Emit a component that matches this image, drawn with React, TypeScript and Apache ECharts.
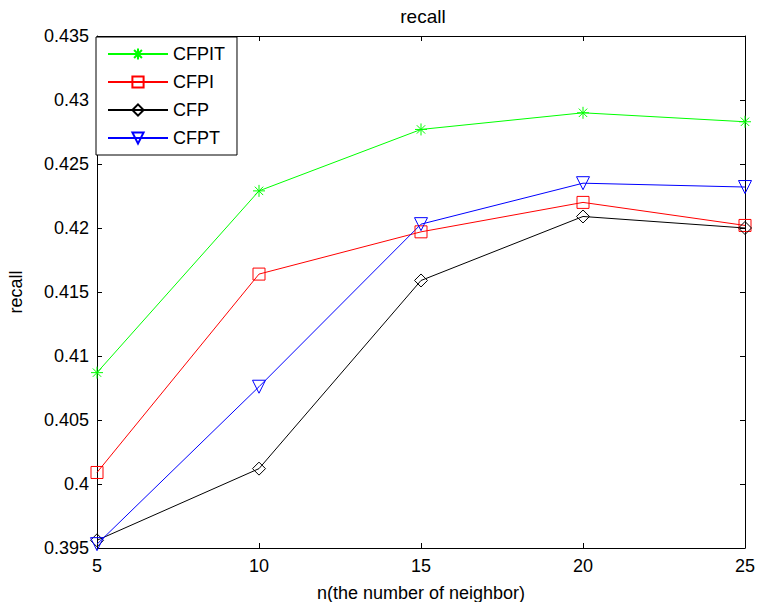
import React, { useEffect, useRef } from "react";
import * as echarts from "echarts";

const neighbors = [5, 10, 15, 20, 25];
const seriesNames = ["CFPIT", "CFPI", "CFP", "CFPT"];
const cfpit = [0.4087, 0.4229, 0.4277, 0.429, 0.4283];
const cfpi = [0.4009, 0.4164, 0.4197, 0.422, 0.4202];
const cfp = [0.3956, 0.4012, 0.4159, 0.4209, 0.42];
const cfpt = [0.3953, 0.4076, 0.4203, 0.4235, 0.4232];

const FONT = "'Liberation Sans', Arial, sans-serif";
const STAR = "path://M6,0L6,12M0,6L12,6M1.8,1.8L10.2,10.2M1.8,10.2L10.2,1.8";

export default function App() {
  const ref = useRef<HTMLDivElement>(null);
  useEffect(() => {
    if (!ref.current) return;
    const chart = echarts.init(ref.current, undefined, { renderer: "svg" });
    const mk = (name: string, vals: number[], color: string, symbol: string, size: number, rotate = 0) => ({
      name,
      type: "line",
      data: neighbors.map((x, i) => [x, vals[i]]),
      symbol,
      symbolSize: size,
      symbolRotate: rotate,
      symbolKeepAspect: true,
      showAllSymbol: true,
      clip: false,
      lineStyle: { color, width: 1 },
      itemStyle: { color: "rgba(0,0,0,0)", borderColor: color, borderWidth: 1 },
      emphasis: { disabled: true },
    });
    const axisCommon = {
      axisLine: { show: true, lineStyle: { color: "#000", width: 1 } },
      axisTick: { show: true, inside: true, length: 5, lineStyle: { color: "#000" } },
      splitLine: { show: false },
    };
    chart.setOption({
      animation: false,
      backgroundColor: "#fff",
      textStyle: { fontFamily: FONT },
      title: {
        text: "recall",
        left: 418,
        textAlign: "center",
        top: 2,
        textStyle: { fontFamily: FONT, fontSize: 19, fontWeight: "normal", color: "#000" },
      },
      grid: { left: 97, top: 36, right: 12, bottom: 54, containLabel: false, outerBoundsMode: "none" },
      legend: {
        left: 96,
        top: 37,
        orient: "vertical",
        data: seriesNames,
        itemWidth: 60,
        itemHeight: 14,
        itemGap: 10,
        padding: [8, 12, 8, 11],
        borderColor: "#000",
        borderWidth: 1,
        backgroundColor: "#fff",
        textStyle: { fontFamily: FONT, fontSize: 18, color: "#000" },
        selectedMode: false,
      },
      xAxis: [
        {
          type: "value",
          min: 5,
          max: 25,
          interval: 5,
          name: "n(the number of neighbor)",
          nameLocation: "middle",
          nameGap: 36,
          nameTextStyle: { fontFamily: FONT, fontSize: 18, color: "#000" },
          axisLabel: { color: "#000", fontSize: 18, fontFamily: FONT, margin: 9 },
          ...axisCommon,
        },
        {
          type: "value",
          position: "top",
          min: 5,
          max: 25,
          interval: 5,
          axisLabel: { show: false },
          ...axisCommon,
        },
      ],
      yAxis: [
        {
          type: "value",
          min: 0.395,
          max: 0.435,
          interval: 0.005,
          name: "recall",
          nameLocation: "middle",
          nameGap: 72,
          nameTextStyle: { fontFamily: FONT, fontSize: 18, color: "#000" },
          axisLabel: {
            color: "#000",
            fontSize: 18,
            fontFamily: FONT,
            margin: 8,
            formatter: (v: number) => String(+v.toFixed(3)),
          },
          ...axisCommon,
        },
        {
          type: "value",
          position: "right",
          min: 0.395,
          max: 0.435,
          interval: 0.005,
          axisLabel: { show: false },
          ...axisCommon,
        },
      ],
      series: [
        mk("CFPIT", cfpit, "#00ff00", STAR, 12),
        mk("CFPI", cfpi, "#ff0000", "rect", 12),
        mk("CFP", cfp, "#000000", "diamond", 13),
        mk("CFPT", cfpt, "#0000ff", "triangle", 13, 180),
      ],
    });
    return () => chart.dispose();
  }, []);
  return (
    <div
      ref={ref}
      style={{ position: "fixed", left: 0, top: 0, width: 757, height: 602 }}
    />
  );
}
